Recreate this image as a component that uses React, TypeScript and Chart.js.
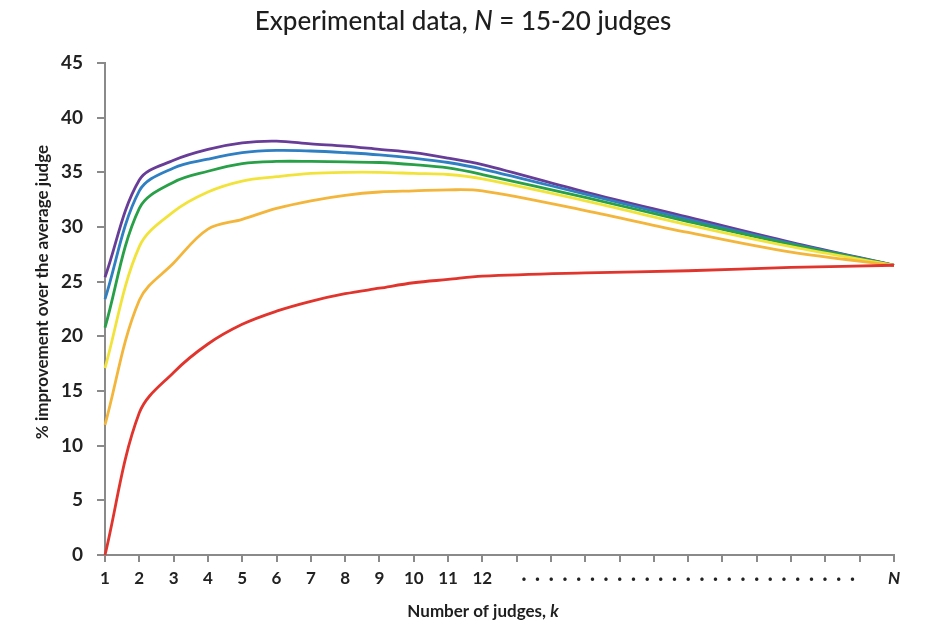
import React, { useEffect, useRef } from "react";
import { Chart, registerables } from "chart.js";

Chart.register(...registerables);

// x positions (number of judges k; 24 stands for N)
const kValues = [1, 2, 3, 4, 5, 6, 7, 8, 9, 10, 11, 12, 15, 18, 21, 24];

const purpleSeries = [25.4, 34.3, 36.1, 37.1, 37.7, 37.85, 37.6, 37.4, 37.1, 36.8, 36.3, 35.7, 33.2, 30.9, 28.6, 26.5];
const blueSeries = [23.4, 33.3, 35.4, 36.2, 36.8, 37.0, 36.95, 36.8, 36.6, 36.3, 35.9, 35.3, 33.0, 30.7, 28.5, 26.5];
const greenSeries = [20.8, 31.7, 34.1, 35.1, 35.8, 36.0, 36.0, 35.95, 35.9, 35.7, 35.4, 34.8, 32.7, 30.5, 28.4, 26.5];
const yellowSeries = [17.1, 28.2, 31.4, 33.2, 34.2, 34.6, 34.9, 35.0, 35.0, 34.9, 34.8, 34.4, 32.4, 30.2, 28.2, 26.5];
const orangeSeries = [11.9, 23.3, 26.7, 29.8, 30.7, 31.7, 32.4, 32.9, 33.2, 33.3, 33.4, 33.3, 31.5, 29.5, 27.7, 26.5];
const redSeries = [0, 13.0, 16.7, 19.3, 21.1, 22.3, 23.2, 23.9, 24.4, 24.9, 25.2, 25.5, 25.8, 26.0, 26.3, 26.5];

const seriesList = [
  { name: "red", values: redSeries, color: "#e0342c" },
  { name: "orange", values: orangeSeries, color: "#f3b53a" },
  { name: "yellow", values: yellowSeries, color: "#f2e33a" },
  { name: "green", values: greenSeries, color: "#27a047" },
  { name: "blue", values: blueSeries, color: "#2f7fc3" },
  { name: "purple", values: purpleSeries, color: "#673d97" },
];

const dotLabel = "·  ·  ·  ·  ·  ·  ·  ·  ·  ·  ·  ·  ·  ·  ·  ·  ·  ·  ·  ·  ·  ·  ·  ·  ·";

const xTickLabels: Record<number, string> = {
  1: "1", 2: "2", 3: "3", 4: "4", 5: "5", 6: "6", 7: "7", 8: "8", 9: "9", 10: "10", 11: "11", 12: "12",
  18: dotLabel,
  24: "N",
};

const FONT = "Lato, 'Liberation Sans', sans-serif";

const textPlugin = {
  id: "customTexts",
  afterDraw(chart: any) {
    const ctx = chart.ctx as CanvasRenderingContext2D;
    ctx.save();
    ctx.fillStyle = "#1e1e1e";
    ctx.textBaseline = "middle";
    const drawRuns = (runs: { t: string; f: string }[], cx: number, cy: number) => {
      let total = 0;
      const widths = runs.map((r) => {
        ctx.font = r.f;
        const w = ctx.measureText(r.t).width;
        total += w;
        return w;
      });
      let x = cx - total / 2;
      ctx.textAlign = "left";
      runs.forEach((r, i) => {
        ctx.font = r.f;
        ctx.fillText(r.t, x, cy);
        x += widths[i];
      });
    };
    drawRuns(
      [
        { t: "Experimental data, ", f: `500 26px ${FONT}` },
        { t: "N", f: `italic 500 26px ${FONT}` },
        { t: " = 15-20 judges", f: `500 26px ${FONT}` },
      ],
      463,
      22
    );
    drawRuns(
      [
        { t: "Number of judges, ", f: `bold 17px ${FONT}` },
        { t: "k", f: `italic bold 17px ${FONT}` },
      ],
      483,
      612
    );
    ctx.translate(43, 292);
    ctx.rotate(-Math.PI / 2);
    drawRuns([{ t: "% improvement over the average judge", f: `bold 17px ${FONT}` }], 0, 0);
    ctx.restore();
  },
};

export default function App() {
  const canvasRef = useRef<HTMLCanvasElement | null>(null);

  useEffect(() => {
    if (!canvasRef.current) return;
    const chart = new Chart(canvasRef.current, {
      type: "line",
      data: {
        datasets: seriesList.map((s) => ({
          label: s.name,
          data: kValues.map((k, i) => ({ x: k, y: s.values[i] })),
          borderColor: s.color,
          backgroundColor: s.color,
          borderWidth: 2.8,
          pointRadius: 0,
          tension: 0.35,
          clip: false as any,
        })),
      },
      options: {
        animation: false,
        responsive: true,
        maintainAspectRatio: false,
        layout: { padding: { top: 63, right: 36, left: 0, bottom: 0 } },
        plugins: {
          legend: { display: false },
          tooltip: { enabled: false },
          title: { display: false },
        },
        scales: {
          x: {
            type: "linear",
            min: 1,
            max: 24,
            afterFit: (s: any) => {
              s.height = 72;
            },
            border: { color: "#8a8a8a", width: 2 },
            grid: { drawOnChartArea: false, drawTicks: true, tickLength: 7, color: "#8a8a8a", lineWidth: 2 },
            ticks: {
              stepSize: 1,
              autoSkip: false,
              maxRotation: 0,
              minRotation: 0,
              padding: 6,
              color: "#222",
              callback: (v: any) => xTickLabels[Number(v)] ?? "",
              font: (c: any) => {
                const v = c.tick ? c.tick.value : 0;
                if (v === 24) return { family: FONT, size: 17, weight: "bold", style: "italic" };
                if (v === 18) return { family: FONT, size: 18, weight: "bold" };
                return { family: FONT, size: 17, weight: "bold" };
              },
            },
          },
          y: {
            min: 0,
            max: 45,
            afterFit: (s: any) => {
              s.width = 105;
            },
            border: { color: "#8a8a8a", width: 2 },
            grid: { drawOnChartArea: false, drawTicks: true, tickLength: 8, color: "#8a8a8a", lineWidth: 2 },
            ticks: {
              stepSize: 5,
              padding: 14,
              color: "#222",
              font: { family: FONT, size: 19, weight: "bold" },
            },
          },
        },
      },
      plugins: [textPlugin],
    });
    return () => chart.destroy();
  }, []);

  return (
    <div style={{ position: "fixed", left: 0, top: 0, width: 930, height: 627, background: "#fff" }}>
      <canvas ref={canvasRef} />
    </div>
  );
}
